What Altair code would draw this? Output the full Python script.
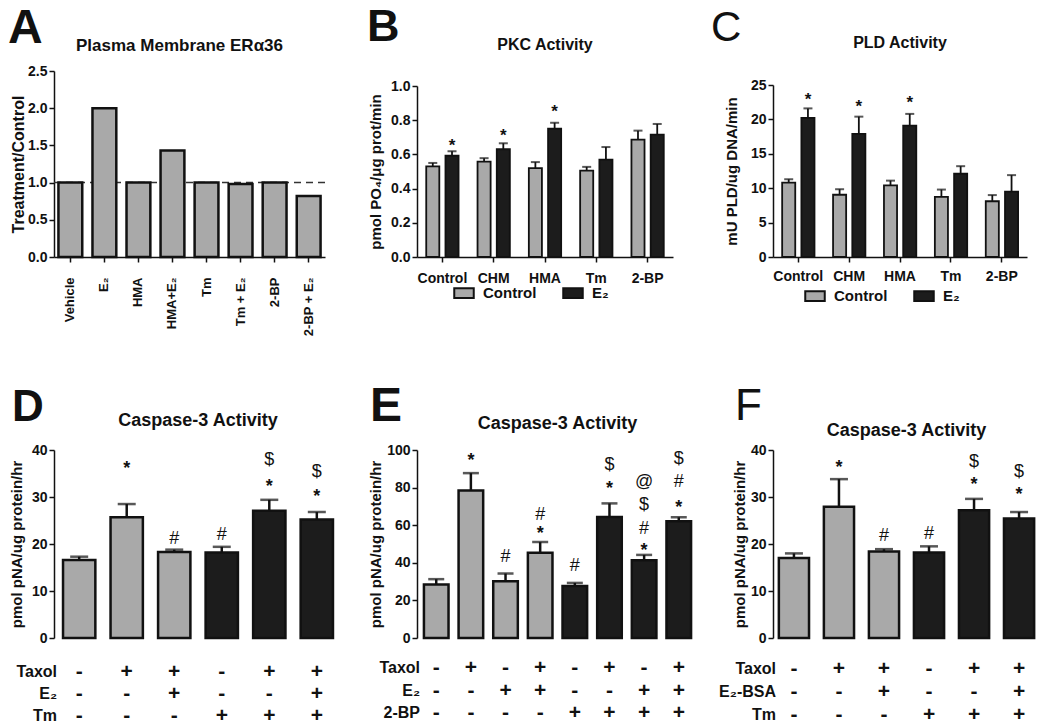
import altair as alt
import pandas as pd

FONT = "Liberation Sans"
GREY = "#a9a9a9"
DARK = "#1c1c1c"
INK = "#111111"

# ---------------- data ----------------
# Panel A
a_categories = ["Vehicle", "E₂", "HMA", "HMA+E₂", "Tm", "Tm + E₂", "2-BP", "2-BP + E₂"]
a_values = [1.00, 2.00, 1.00, 1.43, 1.00, 0.98, 1.00, 0.82]
a_reference = [1.0]
a_ticks = [0.0, 0.5, 1.0, 1.5, 2.0, 2.5]

# Panels B and C
bc_groups = ["Control", "CHM", "HMA", "Tm", "2-BP"]
bc_series = ["Control", "E₂"]

b_control = [0.530, 0.558, 0.520, 0.505, 0.686]
b_control_err = [0.020, 0.020, 0.035, 0.022, 0.053]
b_e2 = [0.592, 0.630, 0.750, 0.570, 0.716]
b_e2_err = [0.026, 0.035, 0.035, 0.073, 0.062]
b_star_groups = ["Control", "CHM", "HMA"]
b_star_y = [0.676, 0.735, 0.878]
b_ticks = [0.0, 0.2, 0.4, 0.6, 0.8, 1.0]

c_control = [10.8, 9.05, 10.4, 8.75, 8.1]
c_control_err = [0.5, 0.8, 0.7, 1.05, 0.9]
c_e2 = [20.2, 17.9, 19.1, 12.1, 9.5]
c_e2_err = [1.4, 2.5, 1.7, 1.1, 2.4]
c_star_groups = ["Control", "CHM", "HMA"]
c_star_y = [23.6, 22.5, 23.1]
c_ticks = [0, 5, 10, 15, 20, 25]

# Panel D
d_values = [16.6, 25.7, 18.3, 18.2, 27.1, 25.2]
d_err = [0.7, 2.8, 0.5, 1.2, 2.3, 1.6]
d_rows = ["Taxol", "E₂", "Tm"]
d_signs = [["-", "+", "+", "-", "+", "+"],
           ["-", "-", "+", "-", "-", "+"],
           ["-", "-", "-", "+", "+", "+"]]
d_ann_bar = [2, 3, 4, 5, 5, 6, 6]
d_ann_text = ["*", "#", "#", "*", "$", "*", "$"]
d_ann_y = [37.1, 21.0, 22.0, 33.2, 37.8, 31.1, 35.3]

# Panel E
e_values = [28.4, 78.5, 30.2, 45.4, 27.7, 64.4, 41.3, 62.1]
e_err = [2.9, 9.2, 4.1, 5.6, 1.6, 7.2, 2.9, 2.1]
e_rows = ["Taxol", "E₂", "2-BP"]
e_signs = [["-", "+", "-", "+", "-", "+", "-", "+"],
           ["-", "-", "+", "+", "-", "-", "+", "+"],
           ["-", "-", "-", "-", "+", "+", "+", "+"]]
e_ann_bar = [2, 3, 4, 4, 5, 6, 6, 7, 7, 7, 7, 8, 8, 8]
e_ann_text = ["*", "#", "*", "#", "#", "*", "$", "*", "#", "$", "@", "*", "#", "$"]
e_ann_y = [97.0, 43.3, 58.0, 65.6, 38.3, 82.1, 92.1, 49.2, 58.1, 70.5, 83.2, 71.9, 83.2, 95.2]

# Panel F
f_values = [17.0, 27.9, 18.4, 18.2, 27.2, 25.4]
f_err = [1.0, 5.9, 0.5, 1.3, 2.4, 1.4]
f_rows = ["Taxol", "E₂-BSA", "Tm"]
f_signs = [["-", "+", "+", "-", "+", "+"],
           ["-", "-", "+", "-", "-", "+"],
           ["-", "-", "-", "+", "+", "+"]]
f_ann_bar = [2, 3, 4, 5, 5, 6, 6]
f_ann_text = ["*", "#", "#", "*", "$", "*", "$"]
f_ann_y = [37.3, 21.7, 22.2, 33.6, 37.5, 31.5, 35.3]

ROW1_H = 186
ROW2_H = 188


def text_layer(txt, size, weight, x, y, align="left"):
    return alt.Chart(pd.DataFrame({"t": [txt]})).mark_text(
        font=FONT, fontSize=size, fontWeight=weight, color=INK,
        align=align, baseline="alphabetic"
    ).encode(text="t:N", x=alt.value(x), y=alt.value(y))


# ---------------- Panel A ----------------
def panel_a():
    df = pd.DataFrame({"cat": a_categories, "value": a_values})
    x = alt.X("cat:N", sort=a_categories,
              scale=alt.Scale(paddingInner=0.3, paddingOuter=0.13),
              axis=alt.Axis(title=None, labelAngle=-90, labelFontSize=13,
                            labelPadding=15, tickSize=5))
    y = alt.Y("value:Q", scale=alt.Scale(domain=[0, 2.5], nice=False),
              axis=alt.Axis(values=a_ticks, tickCount=len(a_ticks), format=".1f",
                            title="Treatment/Control", titleFontSize=16,
                            labelFontSize=14, titlePadding=1,
                            labelPadding=2, tickSize=5))
    ref = alt.Chart(pd.DataFrame({"level": a_reference})).mark_rule(
        color="#333333", strokeDash=[7, 5], strokeWidth=1.5
    ).encode(y="level:Q")
    bars = alt.Chart(df).mark_bar(fill=GREY, stroke=INK, strokeWidth=2.5).encode(x=x, y=y)
    return alt.layer(
        ref, bars,
        text_layer("A", 48, "bold", -46, -28),
        text_layer("Plasma Membrane ERα36", 17, "bold", 271 / 2 - 10, -20, "center"),
    ).properties(width=271, height=ROW1_H)


# ---------------- Panels B, C ----------------
def grouped_panel(letter, letter_size, letter_weight, lx, ly, title, title_y,
                  control, control_err, e2, e2_err, star_groups, star_y,
                  ymax, ticks, fmt, ytitle, ytitle_pad, top, width,
                  legend_x, legend_y, label_pad):
    rows = []
    for g, v, e in zip(bc_groups, control, control_err):
        rows.append({"group": g, "series": bc_series[0], "value": v, "upper": v + e})
    for g, v, e in zip(bc_groups, e2, e2_err):
        rows.append({"group": g, "series": bc_series[1], "value": v, "upper": v + e})
    df = pd.DataFrame(rows)
    stars = pd.DataFrame({"group": star_groups, "series": bc_series[1],
                          "value": star_y, "mark": "*"})

    x = alt.X("group:N", sort=bc_groups,
              scale=alt.Scale(paddingInner=0.37, paddingOuter=0.18),
              axis=alt.Axis(title=None, labelAngle=0, labelFontSize=14,
                            labelPadding=label_pad, tickSize=5))
    xo = alt.XOffset("series:N", sort=bc_series,
                     scale=alt.Scale(paddingInner=0.32, paddingOuter=0))
    y = alt.Y("value:Q",
              scale=alt.Scale(domain=[0, ymax], nice=False, range=[ROW1_H, top]),
              axis=alt.Axis(values=ticks, tickCount=len(ticks), format=fmt,
                            title=ytitle, titleFontSize=15,
                            labelFontSize=14, titlePadding=ytitle_pad,
                            labelPadding=2, tickSize=5))
    bars = alt.Chart(df).mark_bar(stroke=INK, strokeWidth=1.8).encode(
        x=x, xOffset=xo, y=y,
        color=alt.Color("series:N", sort=bc_series,
                        scale=alt.Scale(domain=bc_series, range=[GREY, DARK]),
                        legend=alt.Legend(
                            title=None, orient="none", direction="horizontal",
                            legendX=legend_x, legendY=legend_y,
                            symbolType="M-1,-0.5L1,-0.5L1,0.5L-1,0.5Z",
                            symbolSize=380, symbolStrokeColor=INK,
                            symbolStrokeWidth=2, labelFontSize=15,
                            labelFont=FONT, labelFontWeight="bold",
                            labelColor=INK, columnPadding=22, labelOffset=8)))
    err = alt.Chart(df).mark_rule(color=INK, strokeWidth=1.8).encode(
        x=x, xOffset=xo, y="value:Q", y2="upper:Q")
    caps = alt.Chart(df).mark_tick(color=INK, thickness=2, size=9).encode(
        x=x, xOffset=xo, y="upper:Q")
    star = alt.Chart(stars).mark_text(font=FONT, fontSize=17, fontWeight="bold",
                                      color=INK, baseline="middle", dy=5).encode(
        x=x, xOffset=xo, y="value:Q", text="mark:N")
    return alt.layer(
        bars, err, caps, star,
        text_layer(letter, letter_size, letter_weight, lx, ly),
        text_layer(title, 16, "bold", width / 2, title_y, "center"),
    ).properties(width=width, height=ROW1_H)


# ---------------- Panels D, E, F ----------------
def caspase_panel(letter, letter_size, letter_weight, lx, ly, title_y,
                  values, errs, rows, signs, ann_bar, ann_text, ann_y,
                  ymax, ystep, width, pad_in, pad_out, cap, ytitle_pad, table_span):
    ids = [str(i + 1) for i in range(len(values))]
    inhibitor = ["with" if s == "+" else "without" for s in signs[-1]]
    df = pd.DataFrame({"bar": ids, "value": values,
                       "upper": [v + e for v, e in zip(values, errs)],
                       "inhibitor": inhibitor})
    ann = pd.DataFrame({"bar": [str(b) for b in ann_bar], "mark": ann_text, "value": ann_y})

    yticks = list(range(0, ymax + 1, ystep))
    xscale = alt.Scale(domain=ids, paddingInner=pad_in, paddingOuter=pad_out)
    x = alt.X("bar:N", sort=ids, scale=xscale,
              axis=alt.Axis(title=None, labels=False, tickSize=6))
    y = alt.Y("value:Q", scale=alt.Scale(domain=[0, ymax], nice=False),
              axis=alt.Axis(values=yticks, tickCount=len(yticks),
                            title="pmol pNA/ug protein/hr", titleFontSize=15,
                            labelFontSize=14, titlePadding=ytitle_pad,
                            labelPadding=2, tickSize=5))
    bars = alt.Chart(df).mark_bar(stroke=INK, strokeWidth=2.5).encode(
        x=x, y=y,
        color=alt.Color("inhibitor:N",
                        scale=alt.Scale(domain=["without", "with"], range=[GREY, DARK]),
                        legend=None))
    err = alt.Chart(df).mark_rule(color=INK, strokeWidth=2.5).encode(
        x=x, y="value:Q", y2="upper:Q")
    caps = alt.Chart(df).mark_tick(color=INK, thickness=2.5, size=cap).encode(
        x=x, y="upper:Q")
    other = alt.Chart(ann).transform_filter(alt.datum.mark != "*").mark_text(
        font=FONT, fontSize=18, color=INK, baseline="middle").encode(
        x=x, y="value:Q", text="mark:N")
    stars = alt.Chart(ann).transform_filter(alt.datum.mark == "*").mark_text(
        font=FONT, fontSize=18, fontWeight="bold", color=INK, baseline="middle",
        dy=5).encode(x=x, y="value:Q", text="mark:N")
    plot = alt.layer(
        bars, err, caps, other, stars,
        text_layer(letter, letter_size, letter_weight, lx, ly),
        text_layer("Caspase-3 Activity", 18, "bold", width / 2, title_y, "center"),
    )

    trows = []
    for r, srow in zip(rows, signs):
        for i, s in zip(ids, srow):
            trows.append({"bar": i, "row": r, "sign": s})
    row_scale = alt.Scale(type="point", domain=rows, padding=0,
                          range=[ROW2_H + table_span[0], ROW2_H + table_span[1]])
    signs_layer = alt.Chart(pd.DataFrame(trows)).mark_text(
        font=FONT, fontSize=21, fontWeight="bold", color=INK, baseline="middle"
    ).encode(
        x=alt.X("bar:N", sort=ids, scale=xscale, axis=None),
        y=alt.Y("row:N", sort=rows, scale=row_scale, axis=None),
        text="sign:N",
    )
    names_layer = alt.Chart(pd.DataFrame({"row": rows})).mark_text(
        font=FONT, fontSize=16, fontWeight="bold", color=INK, baseline="middle",
        align="right"
    ).encode(
        x=alt.value(3),
        y=alt.Y("row:N", sort=rows, scale=row_scale, axis=None),
        text="row:N",
    )
    table = alt.layer(signs_layer, names_layer)
    return alt.layer(plot, table).resolve_scale(y="independent").properties(
        width=width, height=ROW2_H)


pa = panel_a()
pb = grouped_panel("B", 45, "bold", -50, -30, "PKC  Activity", -21,
                   b_control, b_control_err, b_e2, b_e2_err, b_star_groups, b_star_y,
                   1.0, b_ticks, ".1f", "pmol PO₄/μg prot/min", 7, 15, 256,
                   36, 211, 9)
pc = grouped_panel("C", 42, "normal", -62, -30, "PLD  Activity", -23,
                   c_control, c_control_err, c_e2, c_e2_err, c_star_groups, c_star_y,
                   25, c_ticks, "d", "mU PLD/ug DNA/min", 11, 14, 254,
                   31, 214, 7)
pd_ = caspase_panel("D", 44, "bold", -42, -29, -24, d_values, d_err, d_rows, d_signs,
                    d_ann_bar, d_ann_text, d_ann_y, 40, 10, 288, 0.32, 0.19, 18, 7,
                    (34, 78))
pe = caspase_panel("E", 48, "bold", -47, -29, -21, e_values, e_err, e_rows, e_signs,
                   e_ann_bar, e_ann_text, e_ann_y, 100, 20, 281, 0.29, 0.2, 16, 3,
                   (30, 75))
pf = caspase_panel("F", 44, "normal", -38, -30, -14, f_values, f_err, f_rows, f_signs,
                   f_ann_bar, f_ann_text, f_ann_y, 40, 10, 267, 0.33, 0.13, 18, 3,
                   (31, 77))

chart = alt.concat(
    pa, pb, pc, pd_, pe, pf, columns=3, bounds="flush",
    spacing={"row": 193, "column": 75}
).resolve_scale(
    x="independent", y="independent", color="independent"
).properties(
    padding={"top": -3, "left": 0, "right": 0, "bottom": 0}
).configure_view(stroke=None).configure_axis(
    labelFont=FONT, titleFont=FONT, labelFontWeight="bold", titleFontWeight="bold",
    labelColor=INK, titleColor=INK, domainColor=INK, tickColor=INK,
    domainWidth=1.5, tickWidth=1.5, grid=False, labelOverlap=False
)

chart.save("out.html", embed_options={"renderer": "svg", "actions": False})
